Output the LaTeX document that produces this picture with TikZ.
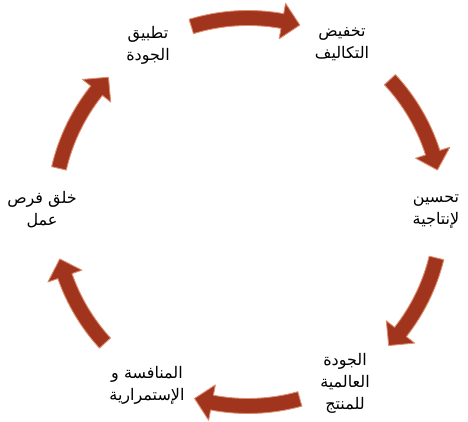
\documentclass[tikz,border=0pt]{standalone}
\usepackage{fontspec}
\newfontfamily\arabicfont[Script=Arabic]{DejaVu Sans}
\TeXXeTstate=1
\definecolor{arrowfill}{RGB}{160,52,28}
\definecolor{arrowedge}{RGB}{222,140,110}
\newcommand\cyclearrow[2]{%
  \pgfmathsetmacro\hb{#2+5.3}%
  \path[cyclearrowstyle] (#1:201.5pt) arc[start angle=#1, end angle=\hb, radius=201.5pt]
    -- (\hb:212pt) -- (#2:194pt) -- (\hb:176pt) -- (\hb:186.5pt)
    arc[start angle=\hb, end angle=#1, radius=186.5pt] -- cycle;
}
\begin{document}
\begin{tikzpicture}[x=1pt,y=1pt,
  cyclearrowstyle/.style={fill=arrowfill, draw=arrowedge, line width=0.9pt, line join=round},
  lbl/.style={font=\arabicfont\fontsize{16}{22}\selectfont, align=center, text=black, inner sep=0pt}]
\useasboundingbox (0,0) rectangle (468,422);
\fill[white] (0,0) rectangle (468,422);
\begin{scope}[shift={(248,210)}]
  \cyclearrow{107}{74.5}
  \cyclearrow{43}{12.5}
  \cyclearrow{-13.7}{-43.5}
  \cyclearrow{-74.5}{-106}
  \cyclearrow{-137.5}{-166}
  \cyclearrow{167}{136}
\end{scope}
\node[lbl] (tl) at (148,377) {\beginR تطبيق\endR\\\beginR الجودة\endR};
\node[lbl] (tr) at (342,378) {\beginR تخفيض\endR\\\beginR التكاليف\endR};
\node[lbl] (r) at (436,210) {\beginR تحسين\endR\\\beginR لإنتاجية\endR};
\node[lbl] (br) at (345,39) {\beginR الجودة\endR\\\beginR العالمية\endR\\\beginR للمنتج\endR};
\node[lbl] (bl) at (147,37) {\beginR المنافسة و\endR\\\beginR الإستمرارية\endR};
\node[lbl] (l) at (42,212) {\beginR خلق فرص\endR\\\beginR عمل\endR};
\end{tikzpicture}
\end{document}
